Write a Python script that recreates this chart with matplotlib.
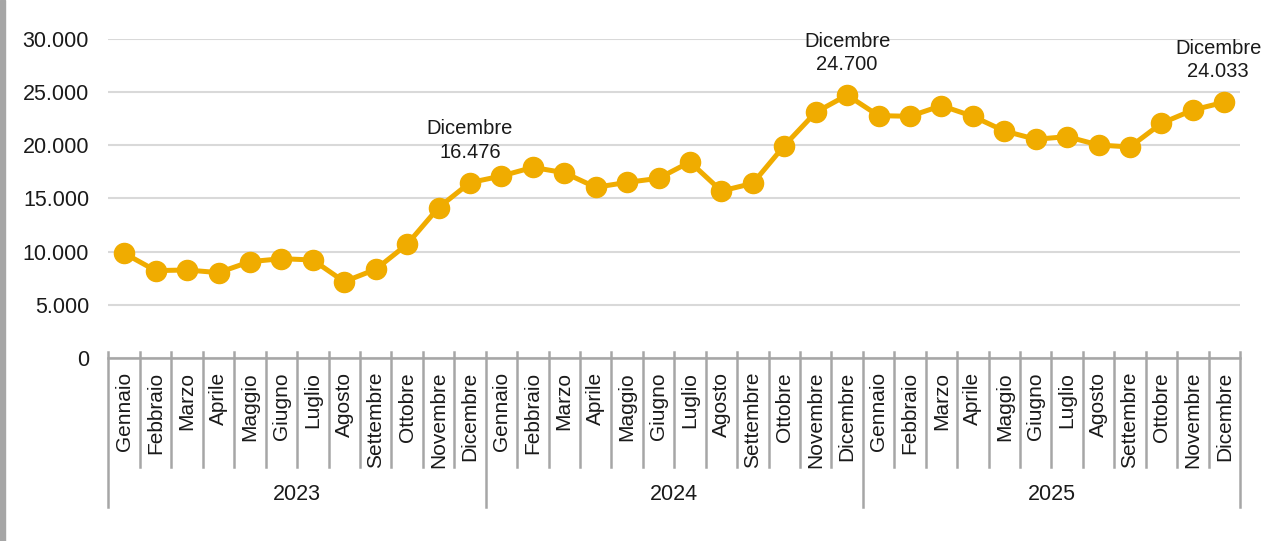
import matplotlib.pyplot as plt
import matplotlib.transforms as mtransforms
from matplotlib.patches import Rectangle

plt.rcParams['font.family'] = ['Liberation Sans', 'DejaVu Sans']

# data
mesi = ['Gennaio', 'Febbraio', 'Marzo', 'Aprile', 'Maggio', 'Giugno',
        'Luglio', 'Agosto', 'Settembre', 'Ottobre', 'Novembre', 'Dicembre']
anni = ['2023', '2024', '2025']
valori_2023 = [9840, 8210, 8270, 8020, 9050, 9330, 9210, 7170, 8330, 10680, 14130, 16476]
valori_2024 = [17100, 17910, 17410, 16040, 16500, 16880, 18420, 15690, 16410, 19950, 23080, 24700]
valori_2025 = [22770, 22710, 23710, 22710, 21330, 20550, 20800, 20010, 19830, 22050, 23300, 24033]

valori = valori_2023 + valori_2024 + valori_2025
n = len(valori)
xs = list(range(n))

gold = '#F0AC00'
grid_c = '#D9D9D9'
axis_c = '#A6A6A6'
txt_c = '#1a1a1a'

fig = plt.figure(figsize=(12.82, 5.41), dpi=100)
fig.patches.append(Rectangle((0, 0), 5 / 1282, 1, transform=fig.transFigure,
                             color='#A6A6A6', zorder=0))
ax = fig.add_axes([108.5 / 1282, 1 - 358 / 541, (1240 - 108.5) / 1282, (358 - 38.7) / 541])

ax.plot(xs, valori, color=gold, lw=3.6, marker='o', ms=14.5, zorder=3, clip_on=False)

ax.set_xlim(-0.5, n - 0.5)
ax.set_ylim(0, 30000)
ax.set_yticks(range(0, 30001, 5000))
ax.set_yticklabels([f'{v:,}'.replace(',', '.') for v in range(0, 30001, 5000)])
ax.tick_params(axis='y', length=0, pad=14, labelsize=15.5, labelcolor=txt_c)
ax.set_xticks([])
ax.grid(axis='y', color=grid_c, lw=1.5)
ax.set_axisbelow(True)
for s in ['top', 'right', 'left']:
    ax.spines[s].set_visible(False)
ax.spines['bottom'].set_color(axis_c)
ax.spines['bottom'].set_linewidth(1.8)

# multi-level category axis
ax_h = 358 - 38.7
trans = mtransforms.blended_transform_factory(ax.transData, ax.transAxes)
for k in range(n + 1):
    xb = k - 0.5
    y_low = -(507 - 358) / ax_h if k % 12 == 0 else -(467 - 358) / ax_h
    ax.plot([xb, xb], [6 / ax_h, y_low], transform=trans, color=axis_c, lw=1.8,
            clip_on=False, zorder=1)
for i in range(n):
    ax.text(xs[i], -(372 - 358) / ax_h, mesi[i % 12], transform=trans, rotation=90,
            ha='center', va='top', fontsize=15, color=txt_c)
for j, anno in enumerate(anni):
    ax.text(j * 12 + 5.5, -(494 - 358) / ax_h, anno, transform=trans,
            ha='center', va='center', fontsize=15.5, color=txt_c)

# labels on December points
for j in range(len(anni)):
    i = j * 12 + 11
    dx = -6 if i == n - 1 else 0
    ax.annotate('Dicembre\n' + f'{valori[i]:,}'.replace(',', '.'),
                (xs[i], valori[i]), xytext=(dx * 0.72, 15), textcoords='offset points',
                ha='center', va='bottom', fontsize=14.5, color=txt_c,
                linespacing=1.3, annotation_clip=False)

fig.savefig('out.png', dpi=100)
